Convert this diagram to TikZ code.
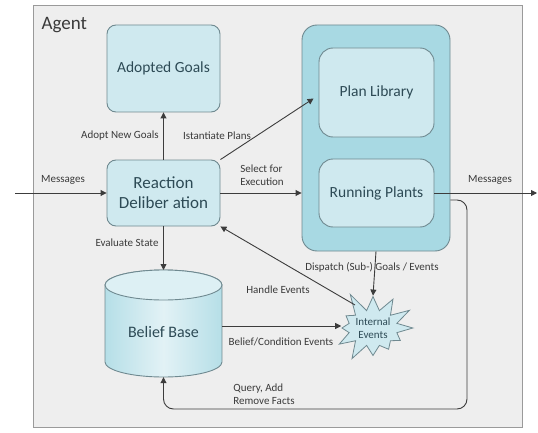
\documentclass[tikz,border=0pt]{standalone}
\usepackage{fontspec}
\setmainfont{Carlito}
\usetikzlibrary{shapes.symbols,arrows.meta,calc}
\definecolor{bgc}{HTML}{EEEEEE}
\definecolor{framec}{HTML}{9A9A9A}
\definecolor{boxf}{HTML}{CFE9EF}
\definecolor{boxd}{HTML}{6F8990}
\definecolor{contf}{HTML}{A8D9E3}
\definecolor{txtc}{HTML}{2D4A55}
\definecolor{lblc}{HTML}{3A3A3A}
\definecolor{linec}{HTML}{3C3C3C}
\tikzset{
  box/.style={draw=boxd, line width=0.9pt, fill=boxf, rounded corners=9pt, text=txtc, font=\fontsize{15.5}{18}\selectfont, align=center, inner sep=0pt},
  lbl/.style={text=lblc, font=\fontsize{11}{13}\selectfont, align=center, inner sep=1pt},
  conn/.style={draw=linec, line width=0.9pt, -{Triangle[length=6pt,width=6pt]}},
}
\begin{document}
\begin{tikzpicture}[x=1pt,y=1pt]
\useasboundingbox (0,0) rectangle (538,432);
% agent frame
\node[draw=framec, fill=bgc, line width=1pt, minimum width=489pt, minimum height=421pt, inner sep=0pt] (agent) at (277.5,215.5) {};
\node[anchor=west, text=lblc, font=\fontsize{19}{21}\selectfont] (agentlbl) at (38,407) {Agent};
% boxes
\node[box, minimum width=113pt, minimum height=87pt] (goals) at (163.5,363.5) {Adopted Goals};
\node[box, minimum width=113pt, minimum height=66pt, font=\fontsize{17}{20}\selectfont] (react) at (163.5,239) {Reaction\\Deliber ation};
\node[box, fill=contf, rounded corners=15pt, minimum width=148pt, minimum height=226pt] (cont) at (376,294) {};
\node[box, minimum width=115pt, minimum height=89pt, rounded corners=14pt] (plan) at (376.5,339.5) {Plan Library};
\node[box, minimum width=115pt, minimum height=68pt, rounded corners=14pt] (run) at (376.5,239) {Running Plants};
% belief base cylinder
\shade[left color=boxf!35!contf, right color=boxf!35!contf, middle color=boxf!60!white, draw=boxd, line width=0.9pt]
  (105,147) -- (105,70) arc[start angle=180, end angle=360, x radius=58.5pt, y radius=15pt] -- (222,147) arc[start angle=0, end angle=180, x radius=58.5pt, y radius=15pt] -- cycle;
\fill[boxf!70!white, draw=boxd, line width=0.9pt] (163.5,147) ellipse[x radius=58.5pt, y radius=15pt];
\node[minimum width=117pt, minimum height=107pt, inner sep=0pt] (bb) at (163.5,108.5) {};
\node[text=txtc, font=\fontsize{16}{18}\selectfont] (bbtxt) at (163.5,100) {Belief Base};
% internal events
\node[starburst, starburst points=12, starburst point height=22pt, random starburst=5, draw=boxd, line width=0.8pt, fill=boxf, text=txtc, font=\fontsize{11}{13}\selectfont, align=center, minimum width=82pt, minimum height=80pt, inner sep=0pt] (ie) at (373,104) {Internal\\Events};
% connectors
\coordinate (min) at (15,239);
\coordinate (mout) at (537,239);
\draw[conn] (min) -- (react.west);
\draw[conn] (run.east) -- (mout);
\draw[conn] (react.east) -- (cont.west |- react.east);
\draw[conn] (react.north) -- (goals.south);
\draw[conn] (react.north east) -- ($(plan.west)+(-5,-6)$);
\draw[conn] (react.south) -- (163.5,162);
\draw[conn] (bb.east |- 0,106) -- (ie.west |- 0,106);
\draw[conn] (cont.south) -- (ie.north);
\draw[conn] ($(ie.center)+(-18,23)$) -- (react.south east);
\draw[conn, rounded corners=10pt] (cont.east |- 0,232) -- (467,232) -- (467,23) -- (163.5,23) -- (bb.south);
% labels
\node[lbl] (l1) at (63,252) {Messages};
\node[lbl] (l2) at (490,252) {Messages};
\node[lbl] (l3) at (120,296) {Adopt New Goals};
\node[lbl] (l4) at (217,296) {Istantiate Plans};
\node[lbl, align=left] (l5) at (262,257) {Select for\\Execution};
\node[lbl] (l6) at (127,189) {Evaluate State};
\node[lbl] (l7) at (372,165) {Dispatch (Sub-) Goals / Events};
\node[lbl] (l8) at (278,142) {Handle Events};
\node[lbl] (l9) at (281,90) {Belief/Condition Events};
\node[lbl, align=left] (l10) at (264,38) {Query, Add\\Remove Facts};
\end{tikzpicture}
\end{document}
